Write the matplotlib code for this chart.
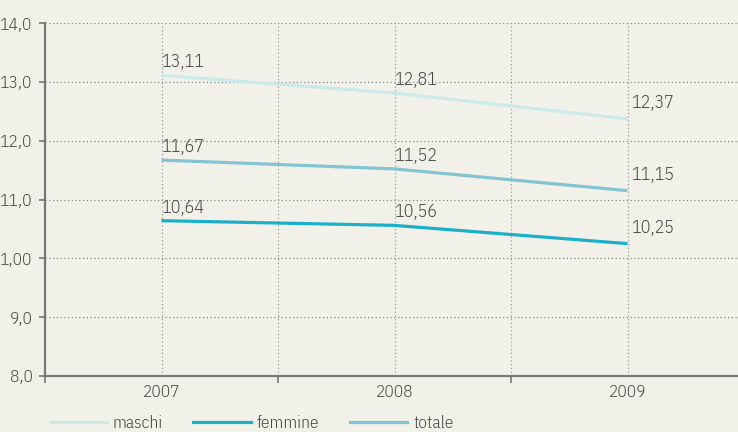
import matplotlib
matplotlib.use("Agg")
import matplotlib.pyplot as plt
from matplotlib.lines import Line2D

years = ["2007", "2008", "2009"]
maschi = [13.11, 12.81, 12.37]
femmine = [10.64, 10.56, 10.25]
totale = [11.67, 11.52, 11.15]
series_names = ["maschi", "femmine", "totale"]
yticks = [8, 9, 10, 11, 12, 13, 14]
ytick_labels = ["8,0", "9,0", "1,00", "11,0", "12,0", "13,0", "14,0"]

colors = {"maschi": "#cbe9ea", "femmine": "#1cafca", "totale": "#83c3d2"}
bg = "#f2f1e9"
txt = "#4a4a4a"

plt.rcParams['font.family'] = ['IBM Plex Sans Condensed', 'DejaVu Sans']
plt.rcParams['font.weight'] = 300

fig = plt.figure(figsize=(7.38, 4.32), dpi=100, facecolor=bg)
ax = fig.add_axes([45/738, 1-376/432, 1-45/738, (376-23)/432])
ax.set_facecolor(bg)

x = list(range(len(years)))
data = {"maschi": maschi, "femmine": femmine, "totale": totale}
for name in series_names:
    vals = data[name]
    ax.plot(x, vals, color=colors[name], lw=2.3, solid_capstyle='butt', zorder=3)
    for i, v in enumerate(vals):
        lab = f"{v:.2f}".replace(".", ",")
        if i == len(vals) - 1:
            ax.annotate(lab, (i, v), xytext=(3, 5), textcoords='offset points',
                        ha='left', va='bottom', fontsize=13, color=txt, fontweight=300)
        else:
            ax.annotate(lab, (i, v), xytext=(0, 3), textcoords='offset points',
                        ha='left', va='bottom', fontsize=13, color=txt, fontweight=300)

ax.set_xlim(-0.5, -0.5 + (738-45)/233)
ax.set_ylim(8, 14)
ax.set_yticks(yticks)
ax.set_yticklabels(ytick_labels, fontsize=12.5, color=txt, fontweight=300)
ax.set_xticks(x)
ax.set_xticklabels(years, fontsize=12.5, color=txt, fontweight=300)
ax.set_xticks([-0.5, 0.5, 1.5], minor=True)

for yv in yticks[1:]:
    ax.axhline(yv, color="#888888", lw=0.9, ls=(0, (1, 2)), zorder=1)
for xv in [0, 0.5, 1, 1.5, 2]:
    ax.axvline(xv, color="#999999", lw=0.9, ls=(0, (1, 2)), zorder=1)

for s in ["top", "right"]:
    ax.spines[s].set_visible(False)
for s in ["left", "bottom"]:
    ax.spines[s].set_color("#777777")
    ax.spines[s].set_linewidth(1.6)
ax.tick_params(axis='y', which='major', length=4, width=1.2, color="#777777", pad=5)
ax.tick_params(axis='x', which='major', length=0, pad=6)
ax.tick_params(axis='x', which='minor', length=5, width=1.2, color="#777777")

handles = [Line2D([0], [0], color=colors[n], lw=2.3) for n in series_names]
leg = fig.legend(handles, series_names, loc='lower left', bbox_to_anchor=(0.046, -0.035),
                 ncol=3, frameon=False, handlelength=3.3, handletextpad=0.35,
                 columnspacing=1.75, labelcolor=txt, prop={'weight': 300, 'size': 12.5})

fig.savefig("out.png", dpi=100, facecolor=bg)
